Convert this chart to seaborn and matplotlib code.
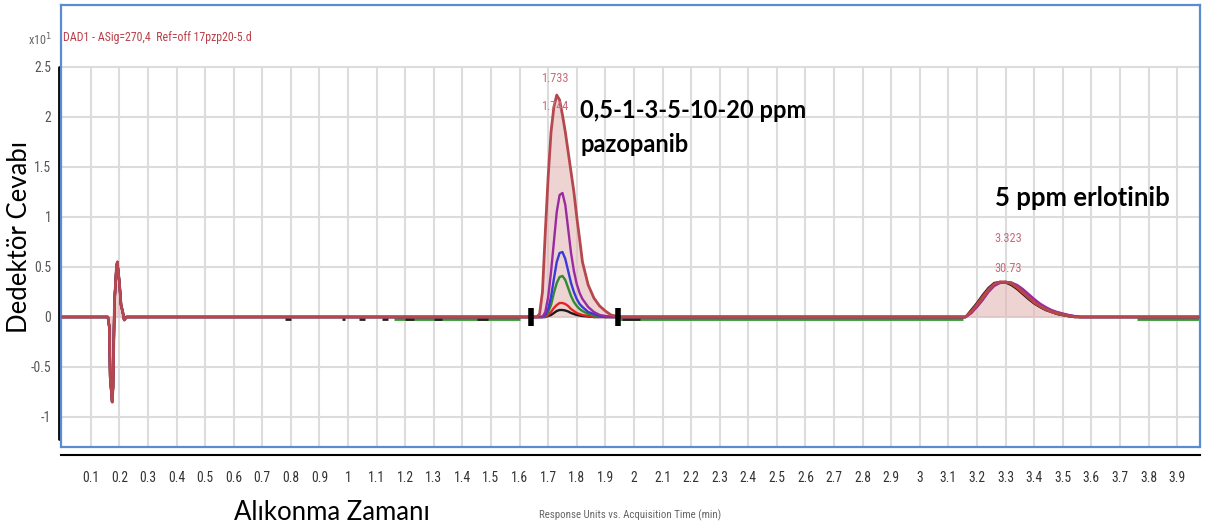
import matplotlib
matplotlib.use("Agg")
import matplotlib.pyplot as plt
import numpy as np
import pandas as pd
import seaborn as sns
from matplotlib.lines import Line2D
from matplotlib import font_manager

# ---------------- data ----------------
trace_names = ["0,5 ppm", "1 ppm", "3 ppm", "5 ppm", "10 ppm", "20 ppm"]
trace_colors = ["#1a1a1a", "#e8231f", "#2e8b2e", "#3a3ad8", "#9a2aa0", "#b5474d"]

# injection disturbance around 0.17 min
spike_time = [0.160, 0.165, 0.168, 0.175, 0.178, 0.183, 0.190, 0.193, 0.200, 0.206, 0.212, 0.217, 0.225]
spike_resp = [0.0, -0.10, -0.60, -0.85, -0.70, 0.15, 0.50, 0.55, 0.35, 0.12, 0.05, -0.03, 0.0]

# pazopanib peak (x10^1 response units)
pz_time = [1.60, 1.66, 1.67, 1.68, 1.69, 1.70, 1.71, 1.72, 1.73, 1.74, 1.75, 1.76,
           1.77, 1.78, 1.79, 1.80, 1.81, 1.82, 1.84, 1.86, 1.88, 1.90, 1.92, 1.95]
pz_05 = [0, 0, 0, 0, 0, 0.01, 0.02, 0.04, 0.06, 0.07, 0.07, 0.065, 0.055, 0.04, 0.03, 0.02, 0.015, 0.01, 0.005, 0, 0, 0, 0, 0]
pz_1 = [0, 0, 0, 0, 0, 0.02, 0.05, 0.09, 0.12, 0.14, 0.14, 0.13, 0.11, 0.08, 0.06, 0.04, 0.03, 0.02, 0.01, 0, 0, 0, 0, 0]
pz_3 = [0, 0, 0, 0, 0.01, 0.05, 0.12, 0.24, 0.34, 0.40, 0.41, 0.37, 0.29, 0.21, 0.15, 0.11, 0.08, 0.06, 0.03, 0.015, 0.005, 0, 0, 0]
pz_5 = [0, 0, 0, 0, 0.02, 0.08, 0.20, 0.38, 0.55, 0.64, 0.65, 0.58, 0.46, 0.34, 0.25, 0.18, 0.13, 0.10, 0.05, 0.03, 0.01, 0, 0, 0]
pz_10 = [0, 0, 0, 0, 0.05, 0.20, 0.45, 0.75, 1.05, 1.22, 1.24, 1.12, 0.88, 0.64, 0.46, 0.33, 0.24, 0.18, 0.10, 0.05, 0.02, 0.01, 0, 0]
pz_20 = [0, 0, 0.03, 0.25, 0.85, 1.40, 1.85, 2.10, 2.22, 2.17, 2.02, 1.85, 1.65, 1.45, 1.25, 1.00, 0.78, 0.55, 0.32, 0.19, 0.11, 0.06, 0.02, 0]

# erlotinib peak (5 ppm in every run)
erl_time = [3.16, 3.18, 3.20, 3.22, 3.24, 3.26, 3.28, 3.30, 3.32, 3.34, 3.36,
            3.38, 3.40, 3.42, 3.44, 3.46, 3.48, 3.50, 3.52, 3.54, 3.56]
erl_a = [0.0, 0.07, 0.14, 0.22, 0.29, 0.34, 0.35, 0.345, 0.32, 0.28, 0.23, 0.18, 0.135, 0.10, 0.07, 0.05, 0.03, 0.018, 0.008, 0, 0]
erl_b = [0.0, 0.06, 0.13, 0.21, 0.28, 0.33, 0.35, 0.35, 0.33, 0.29, 0.24, 0.19, 0.14, 0.105, 0.075, 0.05, 0.032, 0.02, 0.01, 0, 0]
erl_c = [0, 0.05, 0.12, 0.20, 0.27, 0.32, 0.345, 0.35, 0.335, 0.30, 0.25, 0.20, 0.15, 0.11, 0.08, 0.055, 0.035, 0.022, 0.012, 0.004, 0]
erl_d = [0, 0.04, 0.11, 0.18, 0.26, 0.32, 0.345, 0.35, 0.34, 0.31, 0.27, 0.22, 0.17, 0.125, 0.09, 0.065, 0.045, 0.03, 0.018, 0.008, 0]
erl_e = [0, 0.04, 0.10, 0.17, 0.25, 0.31, 0.34, 0.35, 0.345, 0.32, 0.28, 0.23, 0.18, 0.135, 0.10, 0.07, 0.05, 0.035, 0.02, 0.01, 0]
erl_f = [0, 0.05, 0.12, 0.19, 0.27, 0.33, 0.35, 0.35, 0.34, 0.30, 0.25, 0.20, 0.15, 0.11, 0.08, 0.055, 0.04, 0.025, 0.012, 0.003, 0]

run_start, run_end = 0.0, 3.98
integration_marks = [1.64, 1.944]

# baseline pieces of other runs peeking out just below the main trace
green_base_start = [1.16, 1.95, 3.76]
green_base_end = [1.60, 3.15, 3.98]
black_noise_start = [0.78, 0.98, 1.04, 1.12, 1.20, 1.30, 1.45, 1.96]
black_noise_end = [0.80, 0.99, 1.06, 1.14, 1.23, 1.33, 1.49, 2.02]

pz_peak_labels = ["1.733", "1.744"]
erl_peak_labels = ["3.323", "30.73"]

x_ticks = [round(0.1 * i, 1) for i in range(40)]
x_ticklabels = [""] + [("%g" % t) for t in x_ticks[1:]]
y_ticks = [-1, -0.5, 0, 0.5, 1, 1.5, 2, 2.5]
y_ticklabels = ["-1", "-0.5", "0", "0.5", "1", "1.5", "2", "2.5"]

# ---------------- build long table ----------------
pz_sets = [pz_05, pz_1, pz_3, pz_5, pz_10, pz_20]
erl_sets = [erl_a, erl_b, erl_c, erl_d, erl_e, erl_f]
rows = []
for name, pz, erl in zip(trace_names, pz_sets, erl_sets):
    t = [run_start] + spike_time + pz_time + erl_time + [run_end]
    v = [0.0] + spike_resp + pz + erl + [0.0]
    for ti, vi in zip(t, v):
        rows.append((name, ti, vi))
df = pd.DataFrame(rows, columns=["trace", "time", "resp"])

# ---------------- fonts ----------------
sns.set_style("white")
plt.rcParams["font.family"] = ["DejaVu Sans"]
ttf = font_manager.fontManager.ttflist
names = {f.name for f in ttf}
cond = None
for cand in ["Liberation Sans Narrow", "Roboto Condensed", "Open Sans Condensed",
             "DejaVu Sans Condensed", "Noto Sans Condensed", "Arial Narrow"]:
    if cand in names:
        cond = cand
        break
stretch = "normal"
if cond is None:
    for f in ttf:
        if f.stretch in ("condensed", "semi-condensed", "extra-condensed") and f.style == "normal":
            cond = f.name
            stretch = f.stretch
            break
narrow_ok = cond is not None
if cond is None:
    cond = "Liberation Sans"
tick_font = [cond, "DejaVu Sans"]
tsz = 9.8 if narrow_ok else 7.6

W, H = 1205, 531
fig = plt.figure(figsize=(W / 100, H / 100), dpi=100)
ax = fig.add_axes([61 / W, 1 - 447 / H, (1200 - 61) / W, (447 - 5) / H])

ymin, ymax = -1.30, 3.12
ax.set_xlim(run_start - 0.004, run_end)
ax.set_ylim(ymin, ymax)

# grid
grid_c = "#dcdcdc"
for yv in y_ticks:
    ax.axhline(yv, color=grid_c, lw=1.5, zorder=0)
ax.vlines(x_ticks[1:], ymin, 2.5, color=grid_c, lw=1.5, zorder=0)

# peeking baselines
ax.hlines([-0.022] * len(green_base_start), green_base_start, green_base_end, color="#2e9b2e", lw=2.0, zorder=1.5)
ax.hlines([-0.02] * len(black_noise_start), black_noise_start, black_noise_end, color="#222222", lw=2.0, zorder=1.5)

# fill under the 20 ppm trace
brown = df[df.trace == "20 ppm"]
ax.fill_between(brown.time, 0, brown.resp, color="#e3b7b7", alpha=0.6, lw=0, zorder=1)

pal = dict(zip(trace_names, trace_colors))
sns.lineplot(data=df[df.trace != "20 ppm"], x="time", y="resp", hue="trace",
             hue_order=trace_names[:-1], palette=pal, sort=False, estimator=None,
             legend=False, lw=1.7, ax=ax, zorder=2)
sns.lineplot(data=brown, x="time", y="resp", color=trace_colors[-1], sort=False,
             estimator=None, legend=False, lw=2.0, ax=ax, zorder=3)

# integration markers
ax.plot(integration_marks, [0, 0], ls="none", marker="|", ms=13, mew=4, color="black", zorder=4)

# spines / frame
blue = "#5b8bd0"
for s in ["top", "right", "left"]:
    ax.spines[s].set_color(blue)
    ax.spines[s].set_linewidth(1.6)
ax.spines["bottom"].set_position(("outward", 6))
ax.spines["bottom"].set_color("black")
ax.spines["bottom"].set_linewidth(1.5)
ax.add_line(Line2D([0, 1], [0, 0], transform=ax.transAxes, color=blue, lw=1.6, clip_on=False))
ax.add_line(Line2D([-0.0015, -0.0015], [(-1.22 - ymin) / (ymax - ymin), (2.5 - ymin) / (ymax - ymin)],
                   transform=ax.transAxes, color="black", lw=2.0, clip_on=False))

ax.set_xticks(x_ticks + [run_end])
ax.set_xticklabels(x_ticklabels + [""], fontsize=tsz, color="#333333", family=tick_font, fontstretch=stretch)
ax.set_yticks(y_ticks)
ax.set_yticklabels(y_ticklabels, fontsize=tsz, color="#555555", family=tick_font, fontstretch=stretch)
ax.tick_params(axis="x", direction="out", length=7, width=1.5, color="black", pad=4)
ax.tick_params(axis="y", direction="out", length=3, width=1.5, color="black", pad=4)
ax.set_xlabel("")
ax.set_ylabel("")

def fx(px):
    return px / W

def fy(py):
    return 1 - py / H

small = dict(family=tick_font, fontstretch=stretch)
# header texts
fig.text(fx(52), fy(40), r"x10$^1$", fontsize=tsz - 1, color="#666666", ha="right", va="center", **small)
fig.text(fx(63), fy(38), "DAD1 - ASig=270,4  Ref=off 17pzp20-5.d", fontsize=8.6 if narrow_ok else 6.3,
         color="#b8404a", ha="left", va="center", **small)

# peak labels
plc = "#c86a78"
fig.text(fx(555), fy(79), pz_peak_labels[0], fontsize=tsz - 1, color=plc, ha="center", va="center", **small)
fig.text(fx(555), fy(106), pz_peak_labels[1], fontsize=tsz - 1, color=plc, ha="center", va="center", **small)
fig.text(fx(1008), fy(238), erl_peak_labels[0], fontsize=tsz - 1, color=plc, ha="center", va="center", **small)
fig.text(fx(1008), fy(269), erl_peak_labels[1], fontsize=tsz - 1, color=plc, ha="center", va="center", **small)

# annotations
big_font = ["Lato", "DejaVu Sans"]
fig.text(fx(580), fy(111), "0,5-1-3-5-10-20 ppm", fontsize=17, fontweight="bold", color="black",
         ha="left", va="center", family=big_font)
fig.text(fx(580), fy(145), "pazopanib", fontsize=17, fontweight="bold", color="black",
         ha="left", va="center", family=big_font)
fig.text(fx(995), fy(198), "5 ppm erlotinib", fontsize=18.5, fontweight="bold", color="black",
         ha="left", va="center", family=big_font)

# axis titles
fig.text(fx(20), fy(237), "Dedektör Cevabı", fontsize=18.5, color="black", rotation=90,
         ha="center", va="center", family=big_font)
fig.text(fx(332), fy(512), "Alıkonma Zamanı", fontsize=18.5, color="black",
         ha="center", va="center", family=big_font)
fig.text(fx(630), fy(515), "Response Units vs. Acquisition Time (min)", fontsize=tsz - 2 if narrow_ok else 6.0,
         color="#666666", ha="center", va="center", **small)

fig.savefig("out.png", dpi=100)
